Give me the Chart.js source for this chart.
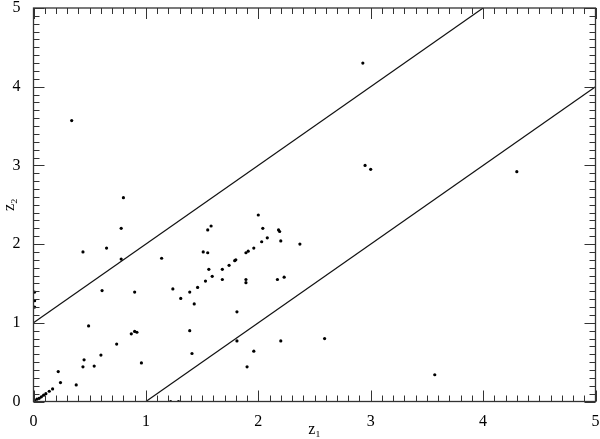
<!DOCTYPE html>
<html>
<head>
<meta charset="utf-8">
<script src="https://cdn.jsdelivr.net/npm/chart.js@4"></script>
<style>
  html, body { margin: 0; padding: 0; background: #fff; }
  #wrap { width: 600px; height: 439px; }
</style>
</head>
<body>
<div id="wrap"><canvas id="scatter"></canvas></div>
<script>
// Points
const pointsX = [
  0.34, 0.44, 0.65, 0.80, 0.78, 0.78, 1.14, 0.61, 0.90, 1.24, 1.31, 1.39, 1.46,
  0.49, 0.74, 0.87, 0.90, 0.92, 0.60, 0.45, 0.44, 0.54, 0.22, 0.24, 0.38, 0.96,
  1.39, 1.41, 1.43,
  0.01, 0.03, 0.05, 0.07, 0.09, 0.11, 0.14, 0.17,
  2.95, 3.00, 2.00, 1.55, 1.58, 2.04, 2.18, 2.19, 2.20, 2.08, 2.03, 1.96, 1.91,
  1.89, 1.80, 1.79, 1.74, 1.68, 1.56, 1.51, 1.55, 1.59, 1.53, 1.68, 1.89, 1.89,
  2.17, 2.23, 2.37, 1.81, 1.81, 2.20, 1.96, 1.90, 2.59, 4.30, 3.57, 2.93,
  0.01, 0.01, 0.01, 1.22, 1.29
];
const pointsY = [
  3.57, 1.90, 1.95, 2.59, 2.20, 1.81, 1.82, 1.41, 1.39, 1.43, 1.31, 1.39, 1.45,
  0.96, 0.73, 0.86, 0.89, 0.88, 0.59, 0.53, 0.44, 0.45, 0.38, 0.24, 0.21, 0.49,
  0.90, 0.61, 1.24,
  0.01, 0.03, 0.04, 0.06, 0.08, 0.10, 0.13, 0.16,
  3.00, 2.95, 2.37, 2.18, 2.23, 2.20, 2.18, 2.16, 2.04, 2.08, 2.03, 1.95, 1.91,
  1.89, 1.80, 1.79, 1.73, 1.68, 1.68, 1.90, 1.89, 1.59, 1.53, 1.55, 1.55, 1.51,
  1.55, 1.58, 2.00, 1.14, 0.77, 0.77, 0.64, 0.44, 0.80, 2.92, 0.34, 4.30,
  1.39, 1.28, 1.20, 0.00, 0.00
];

// Boundary lines z2 = z1 + 1 and z2 = z1 - 1
const upperLineX = [0, 4];
const upperLineY = [1, 5];
const lowerLineX = [1, 5];
const lowerLineY = [0, 4];

const axisMin = 0;
const axisMax = 5;
const tickValues = [0, 1, 2, 3, 4, 5];

const toXY = (xs, ys) => xs.map((x, i) => ({ x: x, y: ys[i] }));

// Frame with inward major/minor ticks on all four sides
const frameTicks = {
  id: 'frameTicks',
  afterDatasetsDraw(chart) {
    const { ctx, chartArea: a, scales } = chart;
    const xs = scales.x, ys = scales.y;
    ctx.save();
    ctx.strokeStyle = '#333';
    ctx.lineWidth = 1.3;
    ctx.strokeRect(a.left, a.top, a.right - a.left, a.bottom - a.top);
    ctx.lineWidth = 1;
    ctx.beginPath();
    for (let i = 0; i <= 50; i++) {
      const v = i / 10;
      const len = (i % 10 === 0) ? 11 : 6;
      const px = Math.round(xs.getPixelForValue(v)) + 0.5;
      ctx.moveTo(px, a.bottom); ctx.lineTo(px, a.bottom - len);
      ctx.moveTo(px, a.top); ctx.lineTo(px, a.top + len);
      const py = Math.round(ys.getPixelForValue(v)) + 0.5;
      ctx.moveTo(a.left, py); ctx.lineTo(a.left + len, py);
      ctx.moveTo(a.right, py); ctx.lineTo(a.right - len, py);
    }
    ctx.stroke();
    ctx.restore();
  }
};

const labelFont = { family: '"Liberation Serif", "Times New Roman", Times, serif', size: 16 };

new Chart(document.getElementById('scatter'), {
  type: 'scatter',
  data: {
    datasets: [
      {
        data: toXY(pointsX, pointsY),
        backgroundColor: '#000',
        borderColor: '#000',
        pointRadius: 1.6,
        pointHoverRadius: 1.6,
        borderWidth: 0
      },
      {
        type: 'line',
        data: toXY(upperLineX, upperLineY),
        borderColor: '#111',
        borderWidth: 1.2,
        pointRadius: 0,
        fill: false
      },
      {
        type: 'line',
        data: toXY(lowerLineX, lowerLineY),
        borderColor: '#111',
        borderWidth: 1.2,
        pointRadius: 0,
        fill: false
      }
    ]
  },
  options: {
    responsive: true,
    maintainAspectRatio: false,
    animation: false,
    events: [],
    layout: { padding: { top: 8, right: 4.5, left: 0, bottom: 0 } },
    plugins: { legend: { display: false }, tooltip: { enabled: false } },
    scales: {
      x: {
        type: 'linear',
        min: axisMin,
        max: axisMax,
        afterBuildTicks: (s) => { s.ticks = tickValues.map(v => ({ value: v })); },
        afterFit: (s) => { s.height = 37.5; s.paddingLeft = 0; s.paddingRight = 0; },
        grid: { display: false },
        border: { display: false },
        ticks: { color: '#000', font: labelFont, padding: 3, maxRotation: 0 },
        title: { display: true, text: 'z\u2081', color: '#000', font: labelFont, padding: { top: 0, bottom: 0 } }
      },
      y: {
        type: 'linear',
        min: axisMin,
        max: axisMax,
        afterBuildTicks: (s) => { s.ticks = tickValues.map(v => ({ value: v })); },
        afterFit: (s) => { s.width = 33.5; s.paddingTop = 0; s.paddingBottom = 0; },
        grid: { display: false },
        border: { display: false },
        ticks: { color: '#000', font: labelFont, padding: 5 },
        title: { display: true, text: 'z\u2082', color: '#000', font: labelFont, padding: { top: 0, bottom: 0 } }
      }
    }
  },
  plugins: [frameTicks]
});
</script>
</body>
</html>
